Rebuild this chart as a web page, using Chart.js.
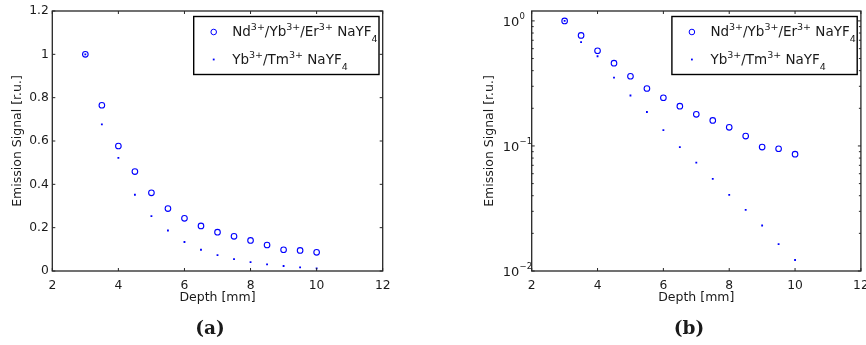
<!DOCTYPE html>
<html><head><meta charset="utf-8">
<script src="https://cdn.jsdelivr.net/npm/chart.js@4/dist/chart.umd.min.js"></script>
<style>
html,body{margin:0;padding:0;background:#fff;width:866px;height:345px;overflow:hidden;position:relative}
canvas{position:absolute;top:0}
#ca{left:0}
#cb{left:433px}
.cap{position:absolute;top:317px;font:bold 18.5px 'DejaVu Serif';color:#1a1a1a;width:60px;text-align:center;line-height:21px}
</style></head><body>
<canvas id="ca" width="433" height="345"></canvas>
<canvas id="cb" width="433" height="345"></canvas>
<div class="cap" style="left:180px">(a)</div>
<div class="cap" style="left:659px">(b)</div>
<script>
// ---- data ----
const depthMm = [3, 3.5, 4, 4.5, 5, 5.5, 6, 6.5, 7, 7.5, 8, 8.5, 9, 9.5, 10];
const ndYbEr = [1.0, 0.765, 0.577, 0.459, 0.361, 0.288, 0.243, 0.208, 0.179, 0.160, 0.141, 0.120, 0.098, 0.095, 0.086];
const ybTm = [1.0, 0.677, 0.522, 0.352, 0.253, 0.187, 0.134, 0.098, 0.0736, 0.0545, 0.0406, 0.0308, 0.0231, 0.0164, 0.01225];

const xTickValues = [2, 4, 6, 8, 10, 12];
const xTickLabels = ['2', '4', '6', '8', '10', '12'];
const yTickValuesLin = [0, 0.2, 0.4, 0.6, 0.8, 1, 1.2];
const yTickLabelsLin = ['0', '0.2', '0.4', '0.6', '0.8', '1', '1.2'];
const yTickValuesLog = [0.01, 0.1, 1];
const yTickExponentsLog = ['\u22122', '\u22121', '0'];
const yMinorLog = [0.02, 0.03, 0.04, 0.05, 0.06, 0.07, 0.08, 0.09, 0.2, 0.3, 0.4, 0.5, 0.6, 0.7, 0.8, 0.9];

const seriesNames = ['Nd3+/Yb3+/Er3+ NaYF4', 'Yb3+/Tm3+ NaYF4'];
const legendRich = [
  [['Nd', 'n'], ['3+', 'sup'], ['/Yb', 'n'], ['3+', 'sup'], ['/Er', 'n'], ['3+', 'sup'], [' NaYF', 'n'], ['4', 'sub']],
  [['Yb', 'n'], ['3+', 'sup'], ['/Tm', 'n'], ['3+', 'sup'], [' NaYF', 'n'], ['4', 'sub']]
];
const xTitle = 'Depth [mm]';
const yTitle = 'Emission Signal [r.u.]';

// ---- styling ----
const BLUE = '#0000ff';
const INK = '#1a1a1a';
const AXIS = '#262626';
const FONT = "'DejaVu Sans'";
Chart.defaults.font.family = FONT;
Chart.defaults.color = INK;

const matlabFrame = {
  id: 'matlabFrame',
  afterDatasetsDraw(chart, args, opts) {
    const { ctx, chartArea: a, scales: { x, y } } = chart;
    ctx.save();
    ctx.strokeStyle = AXIS;
    ctx.lineWidth = 1;
    const tl = 3, tm = 2;
    ctx.beginPath();
    xTickValues.forEach(v => {
      const px = x.getPixelForValue(v);
      ctx.moveTo(px, a.bottom); ctx.lineTo(px, a.bottom - tl);
      ctx.moveTo(px, a.top); ctx.lineTo(px, a.top + tl);
    });
    const yt = opts.log ? yTickValuesLog : yTickValuesLin;
    yt.forEach(v => {
      const py = y.getPixelForValue(v);
      ctx.moveTo(a.left, py); ctx.lineTo(a.left + tl, py);
      ctx.moveTo(a.right, py); ctx.lineTo(a.right - tl, py);
    });
    if (opts.log) {
      yMinorLog.forEach(v => {
        const py = y.getPixelForValue(v);
        ctx.moveTo(a.left, py); ctx.lineTo(a.left + tm, py);
        ctx.moveTo(a.right, py); ctx.lineTo(a.right - tm, py);
      });
    }
    ctx.stroke();
    ctx.lineWidth = 1.3;
    ctx.strokeRect(a.left, a.top, a.right - a.left, a.bottom - a.top);

    // log tick labels 10^n
    if (opts.log) {
      ctx.fillStyle = INK;
      yTickValuesLog.forEach((v, i) => {
        const py = y.getPixelForValue(v);
        const xr = a.left - 12.4;
        ctx.font = '13px ' + FONT;
        ctx.textAlign = 'right';
        ctx.textBaseline = 'middle';
        ctx.fillText('10', xr, py + 1.5);
        ctx.font = '8.5px ' + FONT;
        ctx.textAlign = 'left';
        ctx.textBaseline = 'alphabetic';
        ctx.fillText(yTickExponentsLog[i], xr + 0.3, py - 2);
      });
    }

    // legend
    const bL = a.right - 189, bR = a.right - 3.7, bT = a.top + 5.5, bB = a.top + 63.5;
    ctx.fillStyle = '#fff';
    ctx.fillRect(bL, bT, bR - bL, bB - bT);
    ctx.strokeStyle = '#000';
    ctx.lineWidth = 1.4;
    ctx.strokeRect(bL, bT, bR - bL, bB - bT);
    // markers
    ctx.strokeStyle = BLUE; ctx.lineWidth = 1;
    ctx.beginPath(); ctx.arc(bL + 20, bT + 15.5, 2.8, 0, Math.PI * 2); ctx.stroke();
    ctx.fillStyle = BLUE;
    ctx.fillRect(bL + 20 - 0.9, bT + 43 - 0.9, 1.8, 1.8);
    // texts
    ctx.fillStyle = INK;
    ctx.textAlign = 'left';
    ctx.textBaseline = 'alphabetic';
    const baselines = [bT + 19.7, bT + 47.3];
    legendRich.forEach((segs, li) => {
      let cx = bL + 38.5;
      segs.forEach(([t, kind]) => {
        let yy = baselines[li];
        if (kind === 'n') { ctx.font = '13.5px ' + FONT; }
        else { ctx.font = '9.5px ' + FONT; yy += (kind === 'sup' ? -6.3 : 6.2); }
        ctx.fillText(t, cx, yy);
        cx += ctx.measureText(t).width;
      });
    });
    ctx.restore();
  }
};

function makeDatasets() {
  return [
    { label: seriesNames[0], data: depthMm.map((d, i) => ({ x: d, y: ndYbEr[i] })),
      pointStyle: 'circle', pointRadius: 2.8, borderWidth: 1.1, borderColor: BLUE,
      backgroundColor: 'rgba(0,0,0,0)', showLine: false },
    { label: seriesNames[1], data: depthMm.map((d, i) => ({ x: d, y: ybTm[i] })),
      pointStyle: 'rect', pointRadius: 1.3, borderWidth: 0, borderColor: BLUE,
      backgroundColor: BLUE, showLine: false }
  ];
}

function xScale() {
  return {
    type: 'linear', min: 2, max: 12,
    afterBuildTicks: s => { s.ticks = xTickValues.map(v => ({ value: v })); },
    afterFit: s => { s.height = 34; s.paddingLeft = 0; s.paddingRight = 0; },
    ticks: { padding: 7, maxRotation: 0, autoSkip: false, font: { size: 12.3 }, color: INK,
      callback: v => xTickLabels[xTickValues.indexOf(v)] },
    grid: { display: false, drawTicks: false },
    border: { display: false },
    title: { display: true, text: xTitle, font: { size: 12.5 }, color: INK, padding: { top: 0, bottom: 0 } }
  };
}

function makeChart(id, log) {
  const yWidth = log ? 98.7 : 52.3;
  const padRight = log ? 4.7 : 50.3;
  const y = log ? {
    type: 'logarithmic', min: 0.01, max: 1.2,
    afterBuildTicks: s => { s.ticks = yTickValuesLog.map(v => ({ value: v })); },
    ticks: { display: false },
  } : {
    type: 'linear', min: 0, max: 1.2,
    afterBuildTicks: s => { s.ticks = yTickValuesLin.map(v => ({ value: v })); },
    ticks: { padding: 3.5, font: { size: 12.3 }, color: INK,
      callback: v => yTickLabelsLin[yTickValuesLin.indexOf(v)] },
  };
  Object.assign(y, {
    afterFit: s => { s.width = yWidth; s.paddingTop = 0; s.paddingBottom = 0; },
    grid: { display: false, drawTicks: false },
    border: { display: false },
    title: { display: true, text: yTitle, font: { size: 12.5 }, color: INK,
      padding: { top: (log ? 56.7 : 17.3) - 7.5, bottom: 0 } }
  });
  return new Chart(document.getElementById(id), {
    type: 'scatter',
    data: { datasets: makeDatasets() },
    options: {
      responsive: false, animation: false, devicePixelRatio: 1,
      layout: { padding: { left: 0, top: 11, right: padRight, bottom: 40 } },
      scales: { x: xScale(), y: y },
      plugins: { legend: { display: false }, tooltip: { enabled: false }, matlabFrame: { log: log } }
    },
    plugins: [matlabFrame]
  });
}

makeChart('ca', false);
makeChart('cb', true);
</script>
</body></html>
